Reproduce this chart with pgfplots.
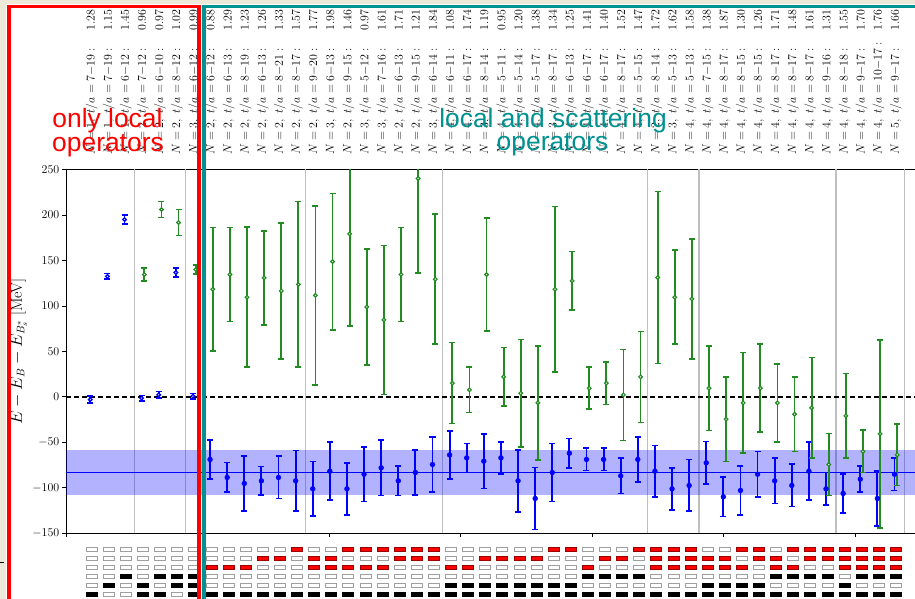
\documentclass[border=0pt]{standalone}
\usepackage{fontspec}
\usepackage{pgfplots}
\usepackage{pgfplotstable}
\pgfplotsset{compat=1.18}
\newfontfamily\notefont{Liberation Sans}
\definecolor{scgreen}{RGB}{34,139,34}
\definecolor{tealbox}{RGB}{0,145,145}
\definecolor{paper}{RGB}{236,233,216}

% small bar used for the operator-content grid
\pgfdeclareplotmark{cell}{%
  \pgfpathrectangle{\pgfpoint{-5.5bp}{-2bp}}{\pgfpoint{11bp}{4bp}}%
  \pgfusepathqfillstroke}

% fit label: N, fit range t/a, chi^2/dof
\newcommand\fitlbl[4]{\makebox[145bp][l]{$N = #1,\ t/a = #2{-}#3 :$\hfill$#4$}}

% fits with local operators only: index, B level, error, B* level, error
\pgfplotstableread{
i  b      be   g      ge
0  -3.0   4.0  nan    nan
1  132.5  3.0  nan    nan
2  195.0  5.0  nan    nan
3  -1.4   3.0  134.5  7.0
4  2.2    3.5  206.0  8.6
5  136.7  5.0  191.7  14.3
6  0.8    3.0  140.0  5.0
}\localops

% fits with local and scattering operators
\pgfplotstableread{
i  b       be    g      ge
7  -68.8   21.5  118.4  68.0
8  -88.6   16.3  134.5  51.7
9  -95.2   30.0  109.6  77.0
10 -92.3   15.7  130.8  51.7
11 -88.6   23.3  116.5  75.0
12 -92.3   33.5  123.7  91.0
13 -101.1  30.0  111.6  98.4
14 -81.7   32.0  148.8  75.0
15 -101.1  28.6  179.2  101.5
16 -85.0   30.0  98.9   64.0
17 -78.0   30.4  84.6   82.0
18 -92.3   16.0  134.5  51.7
19 -83.1   25.0  240.1  104.0
20 -74.4   30.4  129.4  71.5
21 -63.8   26.5  15.1   44.5
22 -67.1   16.0  7.7    25.0
23 -70.7   30.0  134.5  62.3
24 -67.1   17.8  22.0   32.3
25 -92.3   34.0  4.1    59.0
26 -111.7  34.0  -6.6   62.6
27 -83.1   32.0  118.4  91.0
28 -61.9   16.0  127.5  32.3
29 -68.8   12.3  9.6    23.0
30 -68.8   12.3  15.1   23.3
31 -86.8   19.5  2.2    50.0
32 -68.8   25.0  22.0   50.0
33 -81.7   28.4  131.2  94.7
34 -101.1  23.0  109.6  51.7
35 -97.4   28.4  107.7  66.0
36 -72.5   23.3  9.6    46.5
37 -109.9  21.5  -24.5  46.5
38 -102.9  26.8  -6.6   55.4
39 -85.0   25.0  9.6    48.4
40 -92.3   25.0  -6.6   42.9
41 -97.4   23.3  -19.0  41.0
42 -81.7   32.0  -12.1  55.4
43 -101.1  17.8  -74.4  34.0
44 -106.2  21.4  -20.9  46.5
45 -90.5   14.3  -60.0  23.3
46 -111.7  30.0  -40.7  103.5
47 -85.0   17.8  -63.8  33.7
}\scatops

% operator content of each fit (rows 1-3 scattering, rows 4-6 local)
\pgfplotstableread{
i  r1 r2 r3 r4 r5 r6
0  0 0 0 0 0 1
1  0 0 0 0 1 0
2  0 0 0 1 0 0
3  0 0 0 0 1 1
4  0 0 0 1 0 1
5  0 0 0 1 1 0
6  0 0 0 1 1 1
7  0 0 1 0 0 1
8  0 0 1 0 0 1
9  0 0 1 0 0 1
10 0 1 0 0 0 1
11 0 1 0 0 0 1
12 1 0 0 0 0 1
13 0 1 1 0 0 1
14 0 1 1 0 0 1
15 1 0 1 0 0 1
16 1 0 1 0 0 1
17 1 0 1 0 0 1
18 1 1 0 0 0 1
19 1 1 0 0 0 1
20 1 1 0 0 0 1
21 0 0 1 0 1 1
22 0 0 1 0 1 1
23 0 1 0 0 1 1
24 0 1 0 0 1 1
25 0 1 0 0 1 1
26 0 1 0 0 1 1
27 1 0 0 0 1 1
28 1 0 0 0 1 1
29 0 0 1 1 0 1
30 0 1 0 1 0 1
31 0 1 0 1 0 1
32 1 0 0 1 0 1
33 1 1 1 0 0 1
34 1 1 1 0 0 1
35 1 1 1 0 0 1
36 0 1 1 0 1 1
37 0 1 1 0 1 1
38 1 0 1 0 1 1
39 1 1 0 0 1 1
40 0 1 1 1 0 1
41 1 0 1 1 0 1
42 1 1 0 1 0 1
43 1 1 0 1 0 1
44 1 1 1 0 1 1
45 1 1 1 1 0 1
46 1 1 1 1 0 1
47 1 1 1 1 0 1
}\cells

\pgfplotsset{
  frame/.style={at={(66bp,65.7bp)}, anchor=south west, scale only axis,
    width=855.5bp, height=363.8bp, xmin=-1.5, xmax=48.5, ymin=-150, ymax=250},
  redrow/.style={scatter, only marks, scatter src=explicit symbolic,
    scatter/classes={0={mark=cell, draw=gray!75, fill=white, line width=0.8bp},
                     1={mark=cell, draw=red!60!black, fill=red, line width=0.8bp}}},
  blackrow/.style={scatter, only marks, scatter src=explicit symbolic,
    scatter/classes={0={mark=cell, draw=gray!75, fill=white, line width=0.8bp},
                     1={mark=cell, draw=black, fill=black, line width=0.8bp}}},
  ebars/.style={error bars/.cd, y dir=both, y explicit,
    error bar style={draw=#1, line width=1.8bp, solid},
    error mark options={draw=#1, rotate=90, mark size=3bp, line width=1.6bp}},
}

\begin{document}
\begin{tikzpicture}
\useasboundingbox (0,0) rectangle (915bp,599bp);
\clip (0,0) rectangle (915bp,599bp);
\fill[paper] (0,0) rectangle (915bp,599bp);
\fill[white] (5.5bp,-2bp) rectangle (925bp,594.5bp);

\begin{axis}[frame,
  ytick={-150,-100,...,250},
  xtick={-1.5,6.19,13.88,21.57,29.26,36.95,44.64}, xticklabels={},
  tick pos=left, tick align=outside, major tick length=3.5bp,
  axis line style={line width=0.8bp},
  tick style={line width=0.8bp, black},
  yticklabel style={font=\fontsize{13}{15}\selectfont, inner sep=0pt, xshift=-3bp},
  extra x ticks={2.5,5.5,6.5,12.5,20.5,32.5,35.5,43.5,47.5},
  extra x tick labels={},
  extra x tick style={major tick length=0pt, grid=major,
    major grid style={black!25, line width=1.3bp}},
  ylabel={$E - E_B - E_{B_s^*}$ [MeV]},
  every axis y label/.style={at={(axis description cs:-0.0555,0.5)},
    anchor=center, rotate=90, font=\fontsize{16}{19}\selectfont},
]
\addplot[draw=none, fill=blue, fill opacity=0.3, forget plot]
  coordinates {(-1.5,-107.5) (48.5,-107.5) (48.5,-58.7) (-1.5,-58.7)} -- cycle;
\addplot[blue, line width=1bp] coordinates {(-1.5,-83.1) (48.5,-83.1)};
\addplot[black, line width=1.3bp, dash pattern=on 5bp off 3bp]
  coordinates {(-1.5,0) (48.5,0)};

\addplot[blue, only marks, mark=*, mark size=1.8bp,
  mark options={draw=blue, fill=white, line width=1.3bp}, ebars=blue]
  table[x expr=\thisrow{i}-0.08, y=b, y error=be] {\localops};
\addplot[scgreen, only marks, mark=*, mark size=1.8bp,
  mark options={draw=scgreen, fill=white, line width=1.2bp}, ebars=scgreen]
  table[x expr=\thisrow{i}+0.08, y=g, y error=ge] {\localops};
\addplot[blue, only marks, mark=*, mark size=2.4bp,
  mark options={draw=blue, fill=blue, line width=0.5bp}, ebars=blue]
  table[x expr=\thisrow{i}-0.08, y=b, y error=be] {\scatops};
\addplot[scgreen, only marks, mark=*, mark size=1.8bp,
  mark options={draw=scgreen, fill=white, line width=1.2bp}, ebars=scgreen]
  table[x expr=\thisrow{i}+0.08, y=g, y error=ge] {\scatops};
\end{axis}

% fit labels along the top
\begin{axis}[frame, hide y axis, axis x line*=top,
  x axis line style={draw=none}, major tick length=0pt,
  xtick={0,...,47},
  xticklabel style={rotate=90, anchor=west, inner sep=0pt,
    font=\fontsize{12.5}{15}\selectfont},
  xticklabel shift=14.5bp,
  xticklabels={
   {\fitlbl{1}{7}{19}{1.28}},{\fitlbl{1}{7}{19}{1.15}},{\fitlbl{1}{6}{12}{1.45}},
   {\fitlbl{2}{7}{12}{0.96}},{\fitlbl{2}{6}{10}{0.97}},{\fitlbl{2}{8}{12}{1.02}},
   {\fitlbl{3}{6}{12}{0.99}},{\fitlbl{2}{6}{12}{0.88}},{\fitlbl{2}{6}{13}{1.29}},
   {\fitlbl{2}{8}{19}{1.23}},{\fitlbl{2}{6}{13}{1.26}},{\fitlbl{2}{8}{21}{1.33}},
   {\fitlbl{2}{8}{17}{1.57}},{\fitlbl{2}{9}{20}{1.77}},{\fitlbl{3}{6}{13}{1.98}},
   {\fitlbl{2}{9}{15}{1.46}},{\fitlbl{3}{5}{12}{0.97}},{\fitlbl{3}{7}{16}{1.61}},
   {\fitlbl{2}{6}{13}{1.71}},{\fitlbl{2}{9}{15}{1.21}},{\fitlbl{3}{6}{14}{1.84}},
   {\fitlbl{4}{6}{11}{1.08}},{\fitlbl{4}{6}{17}{1.74}},{\fitlbl{3}{8}{14}{1.19}},
   {\fitlbl{4}{5}{11}{0.95}},{\fitlbl{4}{5}{14}{1.20}},{\fitlbl{4}{5}{17}{1.38}},
   {\fitlbl{3}{8}{17}{1.34}},{\fitlbl{4}{6}{13}{1.25}},{\fitlbl{4}{6}{17}{1.41}},
   {\fitlbl{4}{6}{17}{1.40}},{\fitlbl{4}{8}{17}{1.52}},{\fitlbl{4}{5}{15}{1.47}},
   {\fitlbl{2}{8}{14}{1.72}},{\fitlbl{3}{5}{13}{1.62}},{\fitlbl{4}{5}{13}{1.58}},
   {\fitlbl{4}{7}{15}{1.38}},{\fitlbl{4}{8}{17}{1.87}},{\fitlbl{4}{8}{15}{1.30}},
   {\fitlbl{4}{8}{15}{1.26}},{\fitlbl{4}{8}{17}{1.71}},{\fitlbl{4}{8}{17}{1.48}},
   {\fitlbl{4}{8}{17}{1.61}},{\fitlbl{4}{9}{16}{1.31}},{\fitlbl{4}{8}{18}{1.55}},
   {\fitlbl{4}{9}{17}{1.70}},{\fitlbl{4}{10}{17}{1.76}},{\fitlbl{5}{9}{17}{1.66}}},
]
\end{axis}

% operator content grid under the plot
\begin{axis}[at={(66bp,0.5bp)}, anchor=south west, scale only axis,
  width=855.5bp, height=54bp, xmin=-1.5, xmax=48.5, ymin=0.5, ymax=6.5,
  hide axis, clip=false]
\addplot[redrow]   table[x=i, y expr=6, meta=r1] {\cells};
\addplot[redrow]   table[x=i, y expr=5, meta=r2] {\cells};
\addplot[redrow]   table[x=i, y expr=4, meta=r3] {\cells};
\addplot[blackrow] table[x=i, y expr=3, meta=r4] {\cells};
\addplot[blackrow] table[x=i, y expr=2, meta=r5] {\cells};
\addplot[blackrow] table[x=i, y expr=1, meta=r6] {\cells};
\end{axis}

\draw[black, line width=1bp] (0,36.8bp) -- (3.5bp,36.8bp);

\draw[red, line width=3.5bp] (9bp,-1.3bp) rectangle (199bp,592.3bp);
\draw[tealbox, line width=3.5bp] (203.8bp,-1.3bp) rectangle (935bp,592.3bp);

\begin{scope}[every node/.style={anchor=base, inner sep=0pt,
    font=\notefont\fontsize{26.5}{26.5}\selectfont}]
\node[text=red] at (107.5bp,471bp) {only local};
\node[text=red] at (108bp,447.5bp) {operators};
\node[text=tealbox] at (553bp,471bp) {local and scattering};
\node[text=tealbox] at (552.5bp,448.5bp) {operators};
\end{scope}
\end{tikzpicture}
\end{document}
